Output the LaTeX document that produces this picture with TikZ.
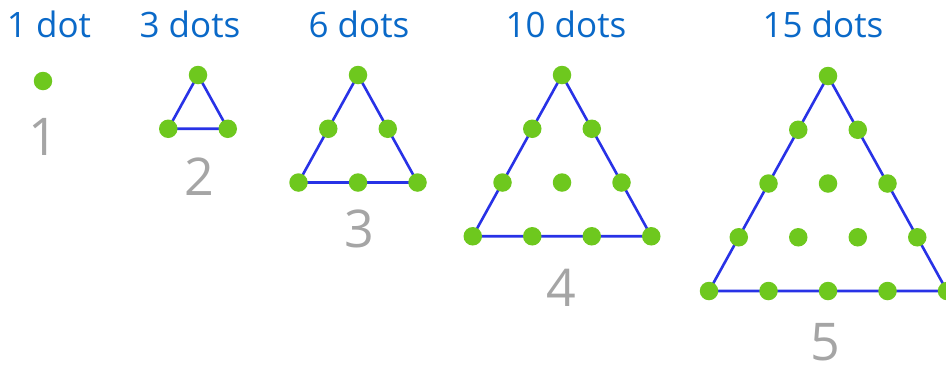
\documentclass[tikz,border=0pt]{standalone}
\usepackage{fontspec}
\setmainfont{Open Sans}
\usetikzlibrary{backgrounds}
\definecolor{dotgreen}{RGB}{110,200,30}
\definecolor{edgeblue}{RGB}{40,50,230}
\definecolor{titleblue}{RGB}{10,105,200}
\definecolor{numgray}{RGB}{165,165,165}
\tikzset{
  dotnode/.style={circle,fill=dotgreen,inner sep=0pt,minimum size=18.5pt},
  edgeline/.style={edgeblue,line width=2.6pt},
  titlelabel/.style={text=titleblue,font=\fontsize{35}{40}\selectfont,inner sep=0pt},
  numlabel/.style={text=numgray,font=\fontsize{52}{56}\selectfont,inner sep=0pt}
}
\begin{document}
\begin{tikzpicture}[x=1pt,y=-1pt]
\useasboundingbox (0,0) rectangle (946,373);
\def\sx{59.5}
\def\sy{53.75}
% dots
\foreach \k/\xt/\yt in {1/43/81,2/198/75,3/358/75,4/562/75,5/828/76}{
  \pgfmathtruncatemacro{\km}{\k-1}
  \foreach \r in {0,...,\km}{
    \foreach \i in {0,...,\r}{
      \node[dotnode] (t\k r\r i\i) at ({\xt+(\i-\r/2)*\sx},{\yt+\r*\sy}) {};
    }
  }
}
% edges
\begin{scope}[on background layer]
\foreach \k in {2,3,4,5}{
  \pgfmathtruncatemacro{\km}{\k-1}
  \draw[edgeline] (t\k r0i0.center) -- (t\k r\km i0.center) -- (t\k r\km i\km.center) -- cycle;
}
\end{scope}
% titles
\node[titlelabel] (h1) at (49,24) {1 dot};
\node[titlelabel] (h2) at (190,24) {3 dots};
\node[titlelabel] (h3) at (359,24) {6 dots};
\node[titlelabel] (h4) at (566,24) {10 dots};
\node[titlelabel] (h5) at (823,24) {15 dots};
% numbers
\node[numlabel] (n1) at (43,137) {1};
\node[numlabel] (n2) at (199,177) {2};
\node[numlabel] (n3) at (359,229) {3};
\node[numlabel] (n4) at (561,288) {4};
\node[numlabel] (n5) at (825,342) {5};
\end{tikzpicture}
\end{document}
